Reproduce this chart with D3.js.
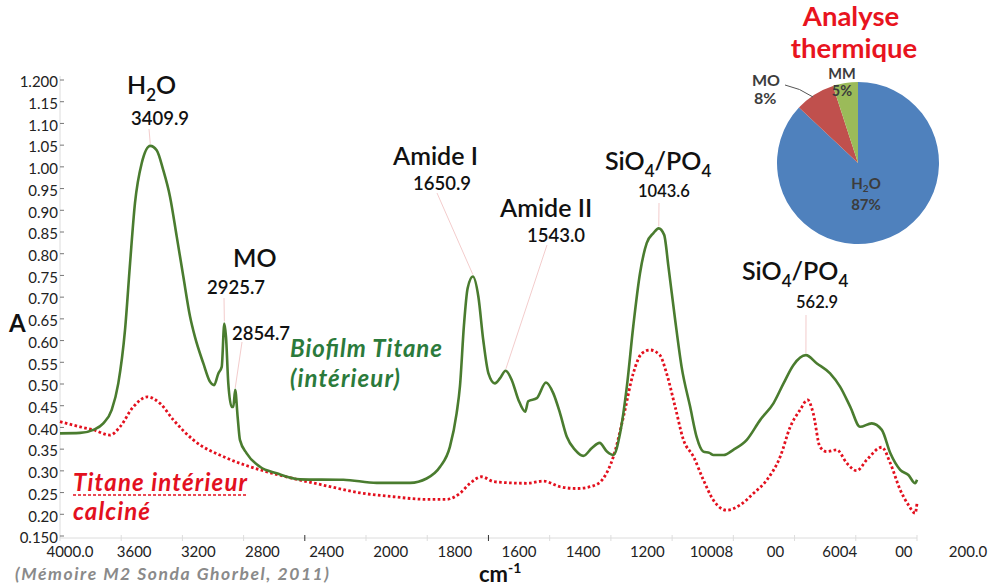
<!DOCTYPE html>
<html>
<head>
<meta charset="utf-8">
<script src="https://cdn.jsdelivr.net/npm/d3@7"></script>
<style>
  body { margin: 0; background: #fff; }
  text { font-family: Lato, "Open Sans", sans-serif; }
</style>
</head>
<body>
<div id="chart"></div>
<script>
// spectrum data (wavenumber in cm-1, absorbance A)
var greenWn = [4000,3869,3782,3717,3662,3619,3575,3542,3510,3466,3410,3368,3325,3281,3237,3194,3150,3118,3063,3020,2993,2965,2943,2926,2915,2900,2878,2867,2855,2839,2824,2780,2693,2584,2431,2148,1965,1856,1802,1758,1726,1704,1693,1680,1668,1651,1633,1617,1600,1579,1562,1544,1524,1502,1480,1470,1442,1412,1388,1366,1344,1317,1290,1262,1237,1213,1192,1170,1148,1127,1105,1083,1061,1044,1026,1012,990,969,941,920,898,878,865,832,800,756,712,669,636,604,563,527,484,451,418,386,348,315,287,255,228,206,200];
var greenAbs = [0.391,0.392,0.399,0.414,0.445,0.506,0.629,0.783,0.921,1.013,1.053,1.043,0.997,0.936,0.844,0.752,0.660,0.613,0.552,0.510,0.502,0.529,0.544,0.644,0.613,0.506,0.452,0.452,0.491,0.429,0.376,0.345,0.314,0.299,0.285,0.284,0.277,0.277,0.287,0.314,0.360,0.437,0.500,0.640,0.725,0.752,0.706,0.606,0.529,0.506,0.518,0.535,0.514,0.468,0.441,0.465,0.472,0.508,0.483,0.437,0.383,0.353,0.339,0.357,0.369,0.349,0.341,0.391,0.498,0.637,0.759,0.829,0.852,0.863,0.848,0.775,0.652,0.544,0.452,0.383,0.349,0.346,0.341,0.341,0.353,0.376,0.422,0.460,0.506,0.548,0.571,0.552,0.529,0.498,0.452,0.406,0.414,0.399,0.345,0.307,0.295,0.276,0.284];

var redWn = [4000,3869,3782,3673,3608,3521,3429,3346,3259,3129,2910,2693,2475,2257,2039,1911,1802,1737,1693,1660,1622,1584,1530,1475,1420,1366,1312,1258,1225,1192,1159,1127,1099,1072,1040,1018,990,963,930,898,865,822,778,734,690,647,614,582,557,539,517,495,462,429,397,364,315,287,255,228,206,200];
var redAbs = [0.418,0.406,0.399,0.387,0.406,0.452,0.475,0.460,0.422,0.376,0.334,0.307,0.287,0.270,0.254,0.245,0.239,0.239,0.253,0.276,0.291,0.280,0.277,0.276,0.281,0.268,0.264,0.270,0.287,0.337,0.429,0.529,0.575,0.583,0.571,0.529,0.452,0.376,0.337,0.284,0.237,0.214,0.226,0.253,0.284,0.337,0.406,0.445,0.468,0.437,0.360,0.349,0.353,0.322,0.305,0.330,0.359,0.322,0.261,0.226,0.207,0.230];

var yTicks = [0.15,0.20,0.25,0.30,0.35,0.40,0.45,0.50,0.55,0.60,0.65,0.70,0.75,0.80,0.85,0.90,0.95,1.00,1.05,1.10,1.15,1.20];
var xTickVals = [4000,3600,3200,2800,2400,2000,1800,1600,1400,1200,1000,800,600,400,200];
var xTickLabels = ["4000.0","3600","3200","2800","2400","2000","1800","1600","1400","1200","10008","00","6004","00","200.0"];

// peak annotations
var peakWn = [3409.9, 2925.7, 2854.7, 1650.9, 1543.0, 1043.6, 562.9];
var peakAbs = [1.053, 0.644, 0.491, 0.752, 0.535, 0.863, 0.571];

// thermal analysis pie
var pieNames = ["H2O","MO","MM"];
var pieVals = [87, 8, 5];
var pieColors = ["#4f81bd","#c0504d","#9bbb59"];

var W = 992, H = 587;
var svg = d3.select("#chart").append("svg")
    .attr("width", W)
    .attr("height", H);

svg.append("rect").attr("width", W).attr("height", H).attr("fill", "#fff");

// broken wavenumber axis: 4000-2000 compressed, 2000-200 expanded
var x = d3.scaleLinear().domain([4000, 2000, 200]).range([60, 366, 917]);
var y = d3.scaleLinear().domain([0.15, 1.2]).range([538, 82]);
// the printed tick labels sit on their own (shifted) spacing
var xl = d3.scalePoint().domain(d3.range(xTickLabels.length)).range([70, 968]);

// axes
svg.append("line").attr("x1", 60).attr("x2", 917).attr("y1", 538).attr("y2", 538)
  .attr("stroke", "#dcdcdc");
svg.append("line").attr("x1", 60).attr("x2", 60).attr("y1", 76).attr("y2", 538)
  .attr("stroke", "#dcdcdc");

svg.selectAll(".xt").data(xTickVals).enter().append("line")
  .attr("x1", function(d) { return x(d); })
  .attr("x2", function(d) { return x(d); })
  .attr("y1", 535).attr("y2", 541)
  .attr("stroke", function(d) { return (d == 2400 || d == 1600) ? "#333" : "#ddd"; });

svg.selectAll(".xl").data(xTickLabels).enter().append("text")
  .attr("x", function(d, i) { return xl(i); })
  .attr("y", 557)
  .attr("text-anchor", "middle")
  .attr("font-size", 15)
  .attr("fill", "#222")
  .text(function(d) { return d; });

svg.selectAll(".yt").data(yTicks).enter().append("line")
  .attr("x1", 60).attr("x2", 64)
  .attr("y1", function(d) { return y(d) - 2; })
  .attr("y2", function(d) { return y(d) - 2; })
  .attr("stroke", "#777");

svg.selectAll(".yl").data(yTicks).enter().append("text")
  .attr("x", 58)
  .attr("y", function(d) { return y(d); })
  .attr("dy", "0.35em")
  .attr("text-anchor", "end")
  .attr("font-size", 15)
  .attr("fill", "#222")
  .text(function(d, i) { return (i == 0 || i == yTicks.length - 1) ? d.toFixed(3) : d.toFixed(2); });

svg.append("text").attr("x", 9).attr("y", 332)
  .attr("font-size", 24).attr("font-weight", 700).attr("fill", "#111").text("A");

var cm = svg.append("text").attr("x", 479).attr("y", 582)
  .attr("font-size", 22).attr("font-weight", 700).attr("fill", "#111");
cm.append("tspan").text("cm");
cm.append("tspan").attr("dy", -9).attr("font-size", 14).text("-1");

svg.append("text").attr("x", 15).attr("y", 580)
  .attr("font-size", 17.5).attr("font-weight", 700).attr("font-style", "italic")
  .attr("textLength", 314).attr("lengthAdjust", "spacing")
  .attr("fill", "#8a8a8a").text("(Mémoire M2 Sonda Ghorbel, 2011)");

// curves
var line = d3.line()
  .x(function(d) { return x(d[0]); })
  .y(function(d) { return y(d[1]); })
  .curve(d3.curveMonotoneX);

var redData = d3.zip(redWn, redAbs);
var greenData = d3.zip(greenWn, greenAbs);

svg.append("path").datum(redData)
  .attr("d", line)
  .attr("fill", "none")
  .attr("stroke", "#e3101e")
  .attr("stroke-width", 2.8)
  .attr("stroke-dasharray", "2.6,2.4");

svg.append("path").datum(greenData)
  .attr("d", line)
  .attr("fill", "none")
  .attr("stroke", "#4a7c2f")
  .attr("stroke-width", 2.6)
  .attr("stroke-linejoin", "round");

// leader lines from labels to peaks
var leaderFrom = [[149,129],[224,298],[242,342],[437,193],[547,245],[659,203],[806,315]];
svg.selectAll(".lead").data(peakWn).enter().append("line")
  .attr("x1", function(d, i) { return leaderFrom[i][0]; })
  .attr("y1", function(d, i) { return leaderFrom[i][1]; })
  .attr("x2", function(d) { return x(d); })
  .attr("y2", function(d, i) { return y(peakAbs[i]) - 2; })
  .attr("stroke", "#f3cccc")
  .attr("stroke-width", 1);

// peak labels
function bigLabel(xp, yp, parts) {
  var t = svg.append("text").attr("x", xp).attr("y", yp)
    .attr("font-family", "'Open Sans', sans-serif")
    .attr("font-size", 25).attr("font-weight", 600).attr("fill", "#111");
  parts.forEach(function(p) {
    if (p.sub) {
      t.append("tspan").attr("dy", 7).attr("font-size", 17).text(p.sub);
    } else {
      t.append("tspan").attr("dy", p.after ? -7 : 0).text(p.txt);
    }
  });
}
function numLabel(xp, yp, s, fs) {
  svg.append("text").attr("x", xp).attr("y", yp)
    .attr("font-family", "'Open Sans', sans-serif")
    .attr("font-size", fs).attr("font-weight", 600).attr("fill", "#111").text(s);
}

bigLabel(127, 94, [{txt: "H"}, {sub: "2"}, {txt: "O", after: true}]);
numLabel(131, 125, "3409.9", 18.5);
bigLabel(233, 267, [{txt: "MO"}]);
numLabel(207, 294, "2925.7", 18.5);
numLabel(232, 340, "2854.7", 18.5);
bigLabel(393, 165, [{txt: "Amide I"}]);
numLabel(413, 190, "1650.9", 18.5);
bigLabel(500, 217, [{txt: "Amide II"}]);
numLabel(527, 242, "1543.0", 18.5);
bigLabel(605, 170, [{txt: "SiO"}, {sub: "4"}, {txt: "/PO", after: true}, {sub: "4"}]);
numLabel(638, 197, "1043.6", 16.5);
bigLabel(742, 280, [{txt: "SiO"}, {sub: "4"}, {txt: "/PO", after: true}, {sub: "4"}]);
numLabel(796, 308, "562.9", 16.5);

// series labels
function seriesLabel(g, xp, yp, len, s) {
  g.append("text").attr("x", xp).attr("y", yp)
    .attr("textLength", len).attr("lengthAdjust", "spacing").text(s);
}
var g1 = svg.append("g").attr("fill", "#2b7a3b").attr("font-size", 24)
  .attr("font-weight", 700).attr("font-style", "italic");
seriesLabel(g1, 290, 357, 152, "Biofilm Titane");
seriesLabel(g1, 290, 387, 110, "(intérieur)");

var g2 = svg.append("g").attr("fill", "#e3101e").attr("font-size", 24)
  .attr("font-weight", 700).attr("font-style", "italic");
seriesLabel(g2, 73, 491, 174, "Titane intérieur");
seriesLabel(g2, 73, 520, 77, "calciné");
svg.append("line").attr("x1", 73).attr("x2", 247).attr("y1", 495).attr("y2", 495)
  .attr("stroke", "#e3101e").attr("stroke-width", 1.5).attr("stroke-dasharray", "3,2");

// thermal analysis inset
var title = svg.append("g").attr("fill", "#e8141e").attr("font-size", 27.5)
  .attr("font-weight", 700).attr("text-anchor", "middle");
title.append("text").attr("x", 851).attr("y", 26).text("Analyse");
title.append("text").attr("x", 854).attr("y", 58).text("thermique");

var pieG = svg.append("g").attr("transform", "translate(858,163)");
var pie = d3.pie().sort(null).value(function(d) { return d; });
var arc = d3.arc().innerRadius(0).outerRadius(81);
pieG.selectAll("path").data(pie(pieVals)).enter().append("path")
  .attr("d", arc)
  .attr("fill", function(d, i) { return pieColors[i]; });

var pl = svg.append("g").attr("font-family", "Liberation Serif, serif")
  .attr("font-size", 16).attr("font-weight", 700).attr("fill", "#3c3c3c");
pl.append("text").attr("x", 752).attr("y", 86).text("MO");
pl.append("text").attr("x", 754).attr("y", 104).text("8%");
pl.append("text").attr("x", 842).attr("y", 79).attr("font-size", 14.5).attr("text-anchor", "middle").text("MM");
pl.append("text").attr("x", 842).attr("y", 96).attr("font-size", 14.5).attr("text-anchor", "middle").text("5%");
var h2o = pl.append("text").attr("x", 866).attr("y", 189).attr("font-size", 15).attr("text-anchor", "middle");
h2o.append("tspan").text("H");
h2o.append("tspan").attr("font-size", 10).attr("dy", 3).text("2");
h2o.append("tspan").attr("dy", -3).text("O");
pl.append("text").attr("x", 866).attr("y", 210).attr("font-size", 15).attr("text-anchor", "middle").text("87%");
svg.append("path").attr("d", "M785,85 Q800,88 813,97")
  .attr("fill", "none").attr("stroke", "#555").attr("stroke-width", 1);
</script>
</body>
</html>
